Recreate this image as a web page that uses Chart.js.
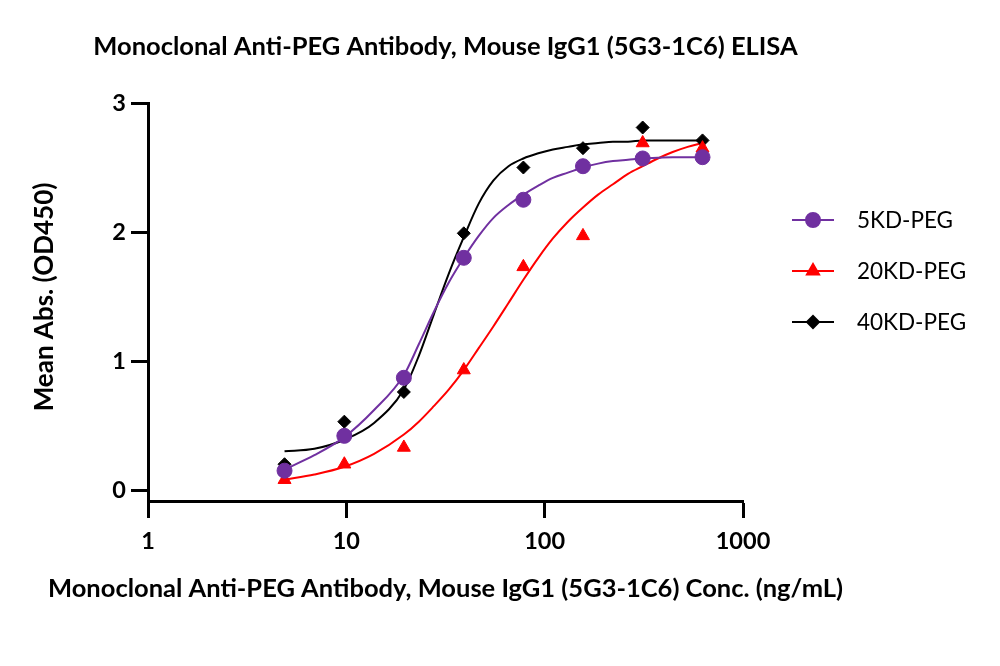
<!DOCTYPE html>
<html>
<head>
<meta charset="utf-8">
<script src="https://cdn.jsdelivr.net/npm/chart.js@4.4.0/dist/chart.umd.min.js"></script>
<style>
  html, body { margin: 0; background: #fff; }
  #wrap { width: 1000px; height: 666px; }
</style>
</head>
<body>
<div id="wrap"><canvas id="c"></canvas></div>
<script>
// measured points (ng/mL vs OD450)
const conc = [4.88, 9.77, 19.5, 39.1, 78.1, 156, 312, 625];
const od5k = [0.15, 0.42, 0.87, 1.80, 2.25, 2.51, 2.57, 2.58];
const od20k = [0.08, 0.20, 0.33, 0.93, 1.73, 1.97, 2.69, 2.65];
const od40k = [0.20, 0.53, 0.76, 1.99, 2.50, 2.65, 2.81, 2.71];

// fitted curves
const fitConc = [4.88, 6.9, 9.77, 13.8, 19.5, 23.2, 27.6, 32.9, 39.1, 46.5, 55.2, 65.7, 78.1, 92.9, 110, 131, 156, 186, 221, 263, 312, 372, 442, 526, 625];
const fit5k  = [0.16, 0.27, 0.41, 0.62, 0.89, 1.13, 1.38, 1.61, 1.80, 1.97, 2.11, 2.21, 2.29, 2.36, 2.42, 2.46, 2.50, 2.53, 2.55, 2.56, 2.57, 2.575, 2.58, 2.58, 2.58];
const fit20k = [0.08, 0.12, 0.18, 0.28, 0.43, 0.53, 0.65, 0.78, 0.93, 1.10, 1.27, 1.45, 1.63, 1.80, 1.95, 2.08, 2.19, 2.29, 2.37, 2.45, 2.51, 2.57, 2.62, 2.66, 2.69];
const fit40k = [0.30, 0.32, 0.39, 0.52, 0.78, 1.04, 1.36, 1.68, 1.96, 2.22, 2.40, 2.51, 2.57, 2.61, 2.64, 2.66, 2.68, 2.69, 2.70, 2.70, 2.71, 2.71, 2.71, 2.71, 2.71];

const xTicks = [1, 10, 100, 1000];
const yTicks = [0, 1, 2, 3];
const names = ['5KD-PEG', '20KD-PEG', '40KD-PEG'];
const colors = ['#7030a0', '#ff0000', '#000000'];
const shapes = ['circle', 'triangle', 'rectRot'];

const chartTitle = 'Monoclonal Anti-PEG Antibody, Mouse IgG1 (5G3-1C6) ELISA';
const xTitle = 'Monoclonal Anti-PEG Antibody, Mouse IgG1 (5G3-1C6) Conc. (ng/mL)';
const yTitle = 'Mean Abs. (OD450)';

const FONT = 'Lato, "Open Sans", sans-serif';

function pts(xs, ys) { return xs.map((x, i) => ({ x: x, y: ys[i] })); }

const measured = [od5k, od20k, od40k];
const fits = [fit5k, fit20k, fit40k];
const datasets = [];
for (let i = 0; i < 3; i++) {
    datasets.push({
        label: names[i], data: pts(conc, measured[i]), showLine: false,
        pointStyle: shapes[i], pointRadius: shapes[i] === 'rectRot' ? 6.5 : 7.5,
        backgroundColor: colors[i], borderColor: colors[i], borderWidth: 1, order: 1
    });
    datasets.push({
        label: names[i] + ' fit', data: pts(fitConc, fits[i]), showLine: true,
        pointRadius: 0, borderColor: colors[i], borderWidth: 2,
        cubicInterpolationMode: 'monotone', order: 2
    });
}

// titles and legend drawn by hand (scale titles get squeezed to the axis width)
const extras = {
    id: 'extras',
    afterDraw(chart) {
        const ctx = chart.ctx, a = chart.chartArea;
        const cx = (a.left + a.right) / 2;
        ctx.save();
        ctx.fillStyle = '#000';
        ctx.textAlign = 'center';
        ctx.textBaseline = 'middle';
        ctx.font = 'bold 25.5px ' + FONT;
        ctx.fillText(chartTitle, cx, 47);
        ctx.fillText(xTitle, cx, 589);

        ctx.save();
        ctx.translate(45, 297);
        ctx.rotate(-Math.PI / 2);
        ctx.font = 'bold 26px ' + FONT;
        ctx.fillText(yTitle, 0, 0);
        ctx.restore();

        // legend
        const rows = [220, 271, 322];
        ctx.textAlign = 'left';
        ctx.font = '22.5px ' + FONT;
        for (let i = 0; i < 3; i++) {
            const y = rows[i];
            ctx.strokeStyle = colors[i];
            ctx.lineWidth = 2;
            ctx.beginPath();
            ctx.moveTo(792, y);
            ctx.lineTo(834, y);
            ctx.stroke();
            ctx.fillStyle = colors[i];
            Chart.helpers.drawPoint(ctx, { pointStyle: shapes[i], radius: shapes[i] === 'rectRot' ? 6 : 7, borderWidth: 1 }, 813, y);
            ctx.fillStyle = '#000';
            ctx.fillText(names[i], 857, y + 1);
        }
        ctx.restore();
    }
};

new Chart(document.getElementById('c'), {
    type: 'scatter',
    data: { datasets: datasets },
    options: {
        responsive: true, maintainAspectRatio: false, animation: false,
        layout: { padding: { left: 0, top: 103, right: 257, bottom: 0 } },
        plugins: { legend: { display: false }, tooltip: { enabled: false } },
        scales: {
            x: {
                type: 'logarithmic', min: 1, max: 1000,
                afterBuildTicks: s => { s.ticks = xTicks.map(v => ({ value: v })); },
                afterFit: s => { s.height = 165; },
                border: { color: '#000', width: 3 },
                grid: { drawOnChartArea: false, drawTicks: true, tickLength: 17, tickColor: '#000', tickWidth: 3 },
                ticks: { color: '#000', font: { family: FONT, size: 23.5, weight: 'bold' }, padding: 9, maxRotation: 0,
                         callback: v => String(v) }
            },
            y: {
                min: -0.085, max: 3,
                afterBuildTicks: s => { s.ticks = yTicks.map(v => ({ value: v })); },
                afterFit: s => { s.width = 148; },
                border: { color: '#000', width: 3 },
                grid: { drawOnChartArea: false, drawTicks: true, tickLength: 17, tickColor: '#000', tickWidth: 3 },
                ticks: { color: '#000', font: { family: FONT, size: 23.5, weight: 'bold' }, padding: 5 }
            }
        }
    },
    plugins: [extras]
});
</script>
</body>
</html>
